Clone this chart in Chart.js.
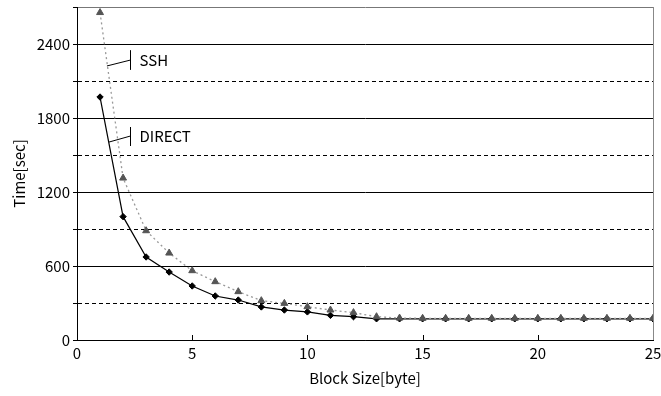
<!DOCTYPE html>
<html>
<head>
<meta charset="utf-8">
<script src="https://cdn.jsdelivr.net/npm/chart.js@4/dist/chart.umd.min.js"></script>
<style>
  html, body { margin:0; padding:0; background:#fff; }
  #wrap { width:661px; height:396px; position:relative; }
</style>
</head>
<body>
<div id="wrap"><canvas id="c" width="661" height="396"></canvas></div>
<script>
// Block size vs. transfer time, DIRECT vs SSH
const blockSizes = [1,2,3,4,5,6,7,8,9,10,11,12,13,14,15,16,17,18,19,20,21,22,23,24,25];
const directTimes = [1970,1000,673,551,438,357,324,268,243,228,200,189,172,172,172,172,172,172,172,172,172,172,172,172,172];
const sshTimes = [2655,1313,886,705,562,473,392,319,297,270,243,222,189,178,176,176,176,176,176,176,176,176,176,176,176];

// label callouts, in data units
const callouts = [
  { text:'SSH',    from:[1.30, 2222], to:[2.31, 2270], bar:[2190, 2350] },
  { text:'DIRECT', from:[1.39, 1605], to:[2.31, 1654], bar:[1573, 1727] }
];

const FONT = '"Noto Sans CJK JP", "DejaVu Sans", sans-serif';
const FS = 15;
Chart.defaults.font.family = FONT;
Chart.defaults.color = '#000';

const pts = ys => ys.map((y, i) => ({ x:blockSizes[i], y }));

const frameAndCallouts = {
  id:'frameAndCallouts',
  afterDraw(chart){
    const { ctx, chartArea:a, scales:{ x, y } } = chart;
    ctx.save();
    // right frame
    ctx.strokeStyle = '#888';
    ctx.lineWidth = 1;
    ctx.beginPath();
    ctx.moveTo(Math.round(a.right) + 0.5, a.top);
    ctx.lineTo(Math.round(a.right) + 0.5, a.bottom);
    ctx.stroke();
    // inward x ticks
    ctx.strokeStyle = '#000';
    [5,10,15,20].forEach(v => {
      const px = Math.round(x.getPixelForValue(v)) + 0.5;
      ctx.beginPath();
      ctx.moveTo(px, a.bottom);
      ctx.lineTo(px, a.bottom - 5);
      ctx.stroke();
    });
    // callouts
    ctx.font = FS + 'px ' + FONT;
    ctx.fillStyle = '#000';
    ctx.textBaseline = 'middle';
    callouts.forEach(c => {
      const bx = Math.round(x.getPixelForValue(c.to[0])) + 0.5;
      ctx.beginPath();
      ctx.moveTo(x.getPixelForValue(c.from[0]), y.getPixelForValue(c.from[1]));
      ctx.lineTo(bx, y.getPixelForValue(c.to[1]));
      ctx.moveTo(bx, y.getPixelForValue(c.bar[0]));
      ctx.lineTo(bx, y.getPixelForValue(c.bar[1]));
      ctx.stroke();
      ctx.fillText(c.text, bx + 9, y.getPixelForValue(c.to[1]));
    });
    ctx.restore();
  }
};

new Chart(document.getElementById('c'), {
  type:'line',
  data:{
    datasets:[
      {
        label:'SSH',
        data:pts(sshTimes),
        borderColor:'#999',
        borderWidth:1.3,
        borderDash:[2,3],
        pointStyle:'triangle',
        pointRadius:4,
        pointBackgroundColor:'#555',
        pointBorderColor:'#555',
        pointBorderWidth:1,
        tension:0
      },
      {
        label:'DIRECT',
        data:pts(directTimes),
        borderColor:'#000',
        borderWidth:1.2,
        pointStyle:'rectRot',
        pointRadius:3.2,
        pointBackgroundColor:'#000',
        pointBorderColor:'#000',
        pointBorderWidth:1,
        tension:0
      }
    ]
  },
  options:{
    responsive:false,
    animation:false,
    layout:{ padding:{ top:7, right:8, left:6, bottom:0 } },
    plugins:{ legend:{ display:false }, tooltip:{ enabled:false } },
    scales:{
      x:{
        type:'linear', min:0, max:25,
        afterFit: s => { s.height = 56; s.paddingLeft = 0; s.paddingRight = 0; },
        grid:{ drawOnChartArea:false, drawTicks:false },
        border:{ color:'#000', width:1 },
        ticks:{ stepSize:5, padding:4, font:{ size:FS }, color:'#000' },
        title:{ display:true, text:'Block Size[byte]', font:{ size:FS }, color:'#000', padding:{ top:2, bottom:9 } }
      },
      y:{
        min:0, max:2700,
        afterFit: s => { s.width = 71; s.paddingTop = 0; s.paddingBottom = 0; },
        grid:{
          color: c => c.tick && c.tick.value === 2700 ? '#777' : '#000',
          lineWidth:1,
          tickColor:'#000',
          tickLength:4
        },
        border:{
          color:'#000', width:1,
          dash: c => (c.tick && c.tick.value % 600 !== 0 && c.tick.value !== 2700) ? [4,3] : []
        },
        ticks:{
          stepSize:300, padding:3, autoSkip:false, font:{ size:FS }, color:'#000',
          callback: v => (v % 600 === 0 && v !== 2700) ? v : ''
        },
        title:{ display:true, text:'Time[sec]', font:{ size:FS }, color:'#000', padding:{ bottom:4 } }
      }
    }
  },
  plugins:[frameAndCallouts]
});
</script>
</body>
</html>
